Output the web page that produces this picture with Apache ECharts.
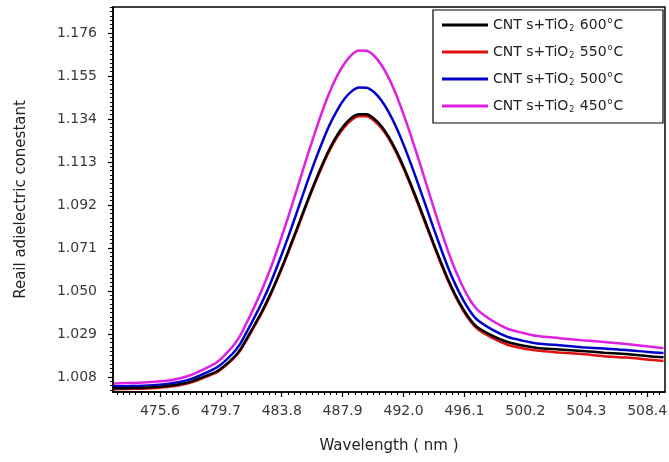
<!DOCTYPE html>
<html>
<head>
<meta charset="utf-8">
<script src="https://cdn.jsdelivr.net/npm/echarts@6/dist/echarts.min.js"></script>
<style>
html,body{margin:0;padding:0;background:#fff;}
#chart{width:669px;height:462px;}
</style>
</head>
<body>
<div id="chart"></div>
<script>
// Wavelength (nm)
var wavelength = [472.5,473.5,474.5,475.6,476.5,477.5,478.5,479.5,480.5,481.0,481.5,482.0,482.5,483.0,483.5,484.0,484.5,485.0,485.5,486.0,486.5,487.0,487.5,488.0,488.5,489.0,489.5,490.0,490.5,491.0,491.5,492.0,492.5,493.0,493.5,494.0,494.5,495.0,495.5,496.0,496.5,497.0,498.0,499.0,500.0,501.0,502.5,504.0,505.5,507.0,508.5,509.5];

var s600 = [1.0025,1.0026,1.0028,1.0033,1.0040,1.0054,1.0080,1.0111,1.0171,1.0214,1.0275,1.0339,1.0405,1.0480,1.0563,1.0651,1.0744,1.0839,1.0935,1.1027,1.1113,1.1192,1.1258,1.1309,1.1346,1.1363,1.1363,1.1343,1.1306,1.1253,1.1186,1.1107,1.1020,1.0928,1.0832,1.0736,1.0644,1.0556,1.0479,1.0414,1.0360,1.0322,1.0281,1.0251,1.0234,1.0222,1.0215,1.0207,1.0199,1.0192,1.0182,1.0177];
var s550 = [1.0020,1.0022,1.0023,1.0028,1.0035,1.0049,1.0075,1.0106,1.0166,1.0208,1.0269,1.0333,1.0399,1.0474,1.0556,1.0644,1.0737,1.0831,1.0927,1.1019,1.1105,1.1183,1.1248,1.1299,1.1335,1.1353,1.1353,1.1333,1.1296,1.1244,1.1177,1.1098,1.1011,1.0919,1.0824,1.0729,1.0636,1.0549,1.0472,1.0406,1.0352,1.0313,1.0270,1.0238,1.0221,1.0209,1.0200,1.0192,1.0182,1.0175,1.0165,1.0158];
var s500 = [1.0035,1.0036,1.0038,1.0043,1.0051,1.0066,1.0094,1.0130,1.0195,1.0242,1.0308,1.0377,1.0450,1.0531,1.0622,1.0718,1.0819,1.0923,1.1028,1.1128,1.1222,1.1308,1.1379,1.1436,1.1475,1.1494,1.1493,1.1472,1.1432,1.1374,1.1301,1.1215,1.1120,1.1019,1.0916,1.0811,1.0710,1.0614,1.0530,1.0458,1.0399,1.0357,1.0310,1.0276,1.0258,1.0244,1.0235,1.0226,1.0219,1.0212,1.0202,1.0197];
var s450 = [1.0049,1.0051,1.0053,1.0059,1.0067,1.0085,1.0116,1.0156,1.0230,1.0282,1.0354,1.0430,1.0512,1.0602,1.0703,1.0810,1.0922,1.1038,1.1155,1.1266,1.1372,1.1467,1.1547,1.1609,1.1653,1.1674,1.1673,1.1650,1.1605,1.1541,1.1460,1.1363,1.1258,1.1146,1.1030,1.0913,1.0801,1.0694,1.0600,1.0520,1.0454,1.0407,1.0354,1.0316,1.0296,1.0280,1.0270,1.0260,1.0251,1.0241,1.0229,1.0221];

var temps = ['600','550','500','450'];
var seriesNames = ['CNT s+TiO2 600°C','CNT s+TiO2 550°C','CNT s+TiO2 500°C','CNT s+TiO2 450°C'];
var xTicks = [475.6,479.7,483.8,487.9,492.0,496.1,500.2,504.3,508.4];
var yTicks = [1.008,1.029,1.050,1.071,1.092,1.113,1.134,1.155,1.176];

var xMin = 472.44, xMax = 509.6;
var yMin = 1.0007, yMax = 1.1887;

function minorValues(ticks, lo, hi, n) {
  var step = (ticks[1] - ticks[0]) / n;
  var out = [];
  var start = ticks[0];
  while (start - step >= lo) start -= step;
  for (var v = start; v <= hi + 1e-9; v += step) out.push(v);
  return out;
}
var xMinor = minorValues(xTicks, xMin, xMax, 10);
var yMinor = minorValues(yTicks, yMin, yMax, 10);

function pairs(arr) { return wavelength.map(function (x, i) { return [x, arr[i]]; }); }

var colors = ['#000000', '#e01010', '#0000cc', '#e020e0'];
var dataSets = [s600, s550, s500, s450];

var font = 'DejaVu Sans, Verdana, sans-serif';
var labelColor = '#3a3a3a';

var chart = echarts.init(document.getElementById('chart'), null, {renderer: 'canvas'});

var series = dataSets.map(function (d, i) {
  return {
    name: seriesNames[i],
    type: 'line',
    xAxisIndex: 0,
    yAxisIndex: 0,
    data: pairs(d),
    smooth: 0.25,
    symbol: 'none',
    lineStyle: {color: colors[i], width: 2.5},
    itemStyle: {color: colors[i]},
    z: 10 - i
  };
});

chart.setOption({
  animation: false,
  backgroundColor: '#fff',
  grid: {
    left: 113, right: 4, top: 7, bottom: 70,
    containLabel: false, outerBoundsMode: 'none',
    show: true, borderColor: '#000', borderWidth: 1.5, backgroundColor: 'transparent'
  },
  legend: {
    orient: 'vertical',
    left: 433, top: 10,
    padding: [7, 6, 9, 9],
    icon: 'rect',
    itemWidth: 46, itemHeight: 3, itemGap: 11,
    borderColor: '#000', borderWidth: 1.2,
    backgroundColor: '#fff',
    data: seriesNames,
    formatter: function (name) {
      var i = seriesNames.indexOf(name);
      return '{m|CNT s+TiO}{sub|2}{m| ' + temps[i] + '}{sup|o}{m|C}';
    },
    textStyle: {
      fontFamily: font, fontSize: 14, color: '#222', width: 164, lineHeight: 16,
      rich: {
        m: {fontSize: 14, fontFamily: font, color: '#222', lineHeight: 16},
        sub: {fontSize: 8, fontFamily: font, color: '#222', verticalAlign: 'bottom', lineHeight: 16, padding: [0, 1, 0, 1]},
        sup: {fontSize: 8, fontFamily: font, color: '#222', verticalAlign: 'top', lineHeight: 16, padding: [0, 1, 0, 1]}
      }
    }
  },
  xAxis: [{
    type: 'value', min: xMin, max: xMax, position: 'bottom',
    name: 'Wavelength ( nm )', nameLocation: 'middle', nameGap: 47,
    nameTextStyle: {fontFamily: font, fontSize: 15, color: '#222'},
    axisLine: {show: true, lineStyle: {color: '#000', width: 1.5}},
    axisTick: {show: true, customValues: xTicks, length: 5, inside: false, lineStyle: {color: '#000', width: 1.2}},
    axisLabel: {show: true, customValues: xTicks, margin: 12, fontFamily: font, fontSize: 14, color: labelColor,
      formatter: function (v) { return v.toFixed(1); }},
    splitLine: {show: false}
  }, {
    type: 'value', min: xMin, max: xMax, position: 'bottom',
    axisLine: {show: false},
    axisTick: {show: true, customValues: xMinor, length: 3, inside: false, lineStyle: {color: '#000', width: 1}},
    axisLabel: {show: false},
    splitLine: {show: false}
  }],
  yAxis: [{
    type: 'value', min: yMin, max: yMax, position: 'left',
    name: 'Reail adielectric conestant', nameLocation: 'middle', nameGap: 84, nameRotate: 90,
    nameTextStyle: {fontFamily: font, fontSize: 15, color: '#222'},
    axisLine: {show: true, lineStyle: {color: '#000', width: 1.5}},
    axisTick: {show: true, customValues: yTicks, length: 5, inside: false, lineStyle: {color: '#000', width: 1.2}},
    axisLabel: {show: true, customValues: yTicks, margin: 16, fontFamily: font, fontSize: 14, color: labelColor,
      formatter: function (v) { return v.toFixed(3); }},
    splitLine: {show: false}
  }, {
    type: 'value', min: yMin, max: yMax, position: 'left',
    axisLine: {show: false},
    axisTick: {show: true, customValues: yMinor, length: 3, inside: false, lineStyle: {color: '#000', width: 1}},
    axisLabel: {show: false},
    splitLine: {show: false}
  }],
  series: series
});
</script>
</body>
</html>
